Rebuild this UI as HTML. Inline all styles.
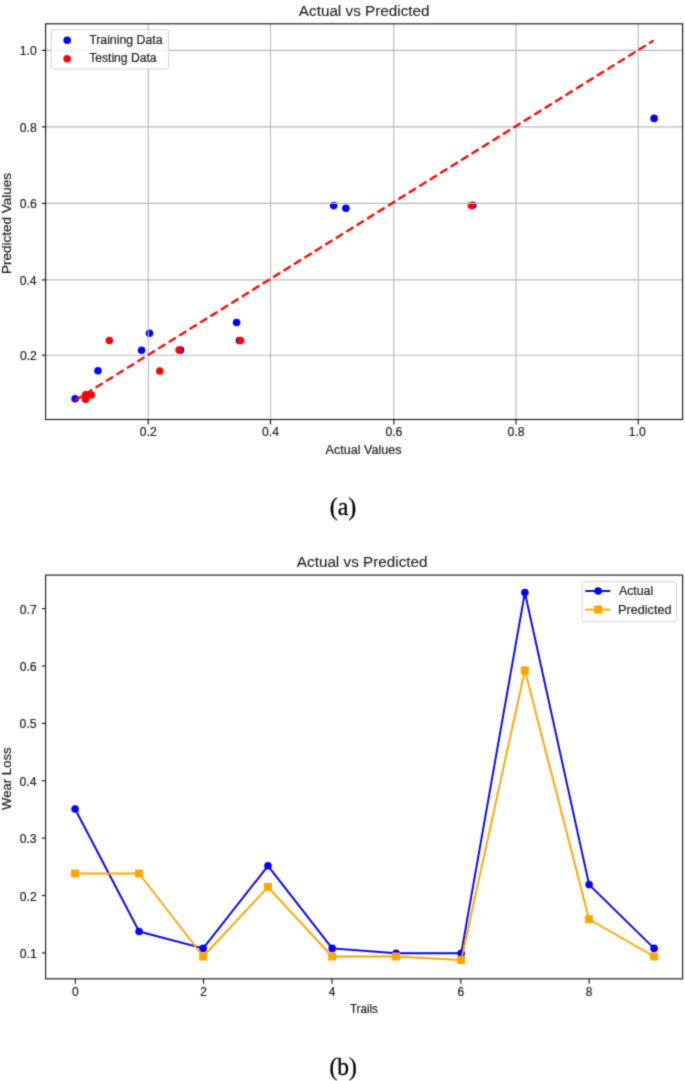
<!DOCTYPE html>
<html><head><meta charset="utf-8"><title>Actual vs Predicted</title>
<style>
html,body{margin:0;padding:0;background:#ffffff;}
body{width:685px;height:1081px;overflow:hidden;font-family:"Liberation Sans",sans-serif;}
svg{display:block;}
</style></head><body>
<svg width="685" height="1081" viewBox="0 0 685 1081">
<defs><filter id="soft" filterUnits="userSpaceOnUse" x="-10" y="-10" width="705" height="1101" color-interpolation-filters="sRGB"><feConvolveMatrix order="3" kernelMatrix="0.0277 0.1110 0.0277 0.1110 0.4452 0.1110 0.0277 0.1110 0.0277" edgeMode="duplicate" preserveAlpha="true"/></filter></defs>
<g filter="url(#soft)">
<rect x="-10" y="-10" width="705" height="1101" fill="#ffffff"/>
<circle cx="75.1" cy="398.8" r="3.8" fill="#0000ff"/>
<circle cx="85.5" cy="399.1" r="3.8" fill="#0000ff"/>
<circle cx="98.0" cy="370.8" r="3.8" fill="#0000ff"/>
<circle cx="141.6" cy="350.3" r="3.8" fill="#0000ff"/>
<circle cx="149.5" cy="333.2" r="3.8" fill="#0000ff"/>
<circle cx="180.6" cy="350.1" r="3.8" fill="#0000ff"/>
<circle cx="236.6" cy="322.5" r="3.8" fill="#0000ff"/>
<circle cx="239.4" cy="340.5" r="3.8" fill="#0000ff"/>
<circle cx="333.7" cy="205.6" r="3.8" fill="#0000ff"/>
<circle cx="345.9" cy="208.2" r="3.8" fill="#0000ff"/>
<circle cx="472.7" cy="205.3" r="3.8" fill="#0000ff"/>
<circle cx="654.1" cy="118.4" r="3.8" fill="#0000ff"/>
<circle cx="85.7" cy="398.9" r="3.8" fill="#ff0000"/>
<circle cx="85.7" cy="394.9" r="3.8" fill="#ff0000"/>
<circle cx="91.3" cy="395.0" r="3.8" fill="#ff0000"/>
<circle cx="109.4" cy="340.5" r="3.8" fill="#ff0000"/>
<circle cx="159.8" cy="371.0" r="3.8" fill="#ff0000"/>
<circle cx="179.2" cy="350.1" r="3.8" fill="#ff0000"/>
<circle cx="240.6" cy="340.5" r="3.8" fill="#ff0000"/>
<circle cx="471.5" cy="205.6" r="3.8" fill="#ff0000"/>
<line x1="148.3" y1="23.8" x2="148.3" y2="419.5" stroke="#b8b8b8" stroke-width="1.1"/>
<line x1="270.5" y1="23.8" x2="270.5" y2="419.5" stroke="#b8b8b8" stroke-width="1.1"/>
<line x1="393.9" y1="23.8" x2="393.9" y2="419.5" stroke="#b8b8b8" stroke-width="1.1"/>
<line x1="516.0" y1="23.8" x2="516.0" y2="419.5" stroke="#b8b8b8" stroke-width="1.1"/>
<line x1="638.2" y1="23.8" x2="638.2" y2="419.5" stroke="#b8b8b8" stroke-width="1.1"/>
<line x1="45.6" y1="50.4" x2="682.6" y2="50.4" stroke="#b8b8b8" stroke-width="1.1"/>
<line x1="45.6" y1="126.9" x2="682.6" y2="126.9" stroke="#b8b8b8" stroke-width="1.1"/>
<line x1="45.6" y1="203.4" x2="682.6" y2="203.4" stroke="#b8b8b8" stroke-width="1.1"/>
<line x1="45.6" y1="279.9" x2="682.6" y2="279.9" stroke="#b8b8b8" stroke-width="1.1"/>
<line x1="45.6" y1="355.2" x2="682.6" y2="355.2" stroke="#b8b8b8" stroke-width="1.1"/>
<line x1="74.7" y1="400.6" x2="653.5" y2="40.6" stroke="#ff0000" stroke-width="2.3" stroke-dasharray="8.4 3.9"/>
<rect x="51.3" y="29.6" width="117.3" height="39.4" rx="2.2" fill="#ffffff" fill-opacity="0.8" stroke="#d4d4d4" stroke-width="1"/>
<circle cx="67.2" cy="40.2" r="3.8" fill="#0000ff"/>
<circle cx="67.2" cy="58.8" r="3.8" fill="#ff0000"/>
<text transform="matrix(0.8989 0 0 1 89.13 43.70)" font-family="Liberation Sans" font-size="13.7" fill="#222222" stroke="#222222" stroke-width="0.2">Training Data</text>
<text transform="matrix(0.8860 0 0 1 89.13 61.70)" font-family="Liberation Sans" font-size="13.7" fill="#222222" stroke="#222222" stroke-width="0.2">Testing Data</text>
<rect x="45.6" y="23.8" width="637.0" height="395.7" fill="none" stroke="#1c1c1c" stroke-width="1.15"/>
<line x1="148.3" y1="419.5" x2="148.3" y2="424.4" stroke="#1c1c1c" stroke-width="1.15"/>
<text transform="matrix(0.9481 0 0 1 139.87 436.30)" font-family="Liberation Sans" font-size="12.9" fill="#222222" stroke="#222222" stroke-width="0.2">0.2</text>
<line x1="270.5" y1="419.5" x2="270.5" y2="424.4" stroke="#1c1c1c" stroke-width="1.15"/>
<text transform="matrix(0.9483 0 0 1 261.94 436.30)" font-family="Liberation Sans" font-size="12.9" fill="#222222" stroke="#222222" stroke-width="0.2">0.4</text>
<line x1="393.9" y1="419.5" x2="393.9" y2="424.4" stroke="#1c1c1c" stroke-width="1.15"/>
<text transform="matrix(0.9481 0 0 1 385.43 436.30)" font-family="Liberation Sans" font-size="12.9" fill="#222222" stroke="#222222" stroke-width="0.2">0.6</text>
<line x1="516.0" y1="419.5" x2="516.0" y2="424.4" stroke="#1c1c1c" stroke-width="1.15"/>
<text transform="matrix(0.9481 0 0 1 507.52 436.30)" font-family="Liberation Sans" font-size="12.9" fill="#222222" stroke="#222222" stroke-width="0.2">0.8</text>
<line x1="638.2" y1="419.5" x2="638.2" y2="424.4" stroke="#1c1c1c" stroke-width="1.15"/>
<text transform="matrix(0.9478 0 0 1 628.78 436.30)" font-family="Liberation Sans" font-size="12.9" fill="#222222" stroke="#222222" stroke-width="0.2">1.0</text>
<line x1="41.800000000000004" y1="50.4" x2="45.6" y2="50.4" stroke="#1c1c1c" stroke-width="1.15"/>
<text transform="matrix(0.9478 0 0 1 19.78 55.00)" font-family="Liberation Sans" font-size="12.9" fill="#222222" stroke="#222222" stroke-width="0.2">1.0</text>
<line x1="41.800000000000004" y1="126.9" x2="45.6" y2="126.9" stroke="#1c1c1c" stroke-width="1.15"/>
<text transform="matrix(0.9481 0 0 1 19.82 131.50)" font-family="Liberation Sans" font-size="12.9" fill="#222222" stroke="#222222" stroke-width="0.2">0.8</text>
<line x1="41.800000000000004" y1="203.4" x2="45.6" y2="203.4" stroke="#1c1c1c" stroke-width="1.15"/>
<text transform="matrix(0.9481 0 0 1 19.84 208.00)" font-family="Liberation Sans" font-size="12.9" fill="#222222" stroke="#222222" stroke-width="0.2">0.6</text>
<line x1="41.800000000000004" y1="279.9" x2="45.6" y2="279.9" stroke="#1c1c1c" stroke-width="1.15"/>
<text transform="matrix(0.9483 0 0 1 19.65 284.50)" font-family="Liberation Sans" font-size="12.9" fill="#222222" stroke="#222222" stroke-width="0.2">0.4</text>
<line x1="41.800000000000004" y1="355.2" x2="45.6" y2="355.2" stroke="#1c1c1c" stroke-width="1.15"/>
<text transform="matrix(0.9481 0 0 1 19.91 359.80)" font-family="Liberation Sans" font-size="12.9" fill="#222222" stroke="#222222" stroke-width="0.2">0.2</text>
<text transform="matrix(1.0326 0 0 1 298.82 15.50)" font-family="Liberation Sans" font-size="14.8" fill="#222222" stroke="#222222" stroke-width="0.1">Actual vs Predicted</text>
<text transform="matrix(0.9763 0 0 1 325.57 453.60)" font-family="Liberation Sans" font-size="12.9" fill="#222222" stroke="#222222" stroke-width="0.2">Actual Values</text>
<text transform="matrix(0 -1.0479 1 0 10.60 274.01)" font-family="Liberation Sans" font-size="12.9" fill="#222222" stroke="#222222" stroke-width="0.2">Predicted Values</text>
<text transform="matrix(0.9785 0 0 1 329.70 514.90)" font-family="Liberation Serif" font-size="24.5" fill="#000000" stroke="#000000" stroke-width="0.3">(a)</text>
<polyline points="75.10,808.99 139.10,931.50 203.20,948.42 268.00,865.80 332.20,948.42 396.10,953.30 461.20,953.30 524.90,592.50 589.10,884.62 654.10,948.42" fill="none" stroke="#0000ff" stroke-width="1.9" stroke-linejoin="round"/>
<circle cx="75.10" cy="808.99" r="3.8" fill="#0000ff"/>
<circle cx="139.10" cy="931.50" r="3.8" fill="#0000ff"/>
<circle cx="203.20" cy="948.42" r="3.8" fill="#0000ff"/>
<circle cx="268.00" cy="865.80" r="3.8" fill="#0000ff"/>
<circle cx="332.20" cy="948.42" r="3.8" fill="#0000ff"/>
<circle cx="396.10" cy="953.30" r="3.8" fill="#0000ff"/>
<circle cx="461.20" cy="953.30" r="3.8" fill="#0000ff"/>
<circle cx="524.90" cy="592.50" r="3.8" fill="#0000ff"/>
<circle cx="589.10" cy="884.62" r="3.8" fill="#0000ff"/>
<circle cx="654.10" cy="948.42" r="3.8" fill="#0000ff"/>
<polyline points="75.10,873.49 139.10,873.49 203.20,956.51 268.00,887.03 332.20,956.51 396.10,956.51 461.20,960.02 524.90,670.30 589.10,919.22 654.10,956.51" fill="none" stroke="#ffa500" stroke-width="1.9" stroke-linejoin="round"/>
<rect x="71.10" y="869.49" width="8.0" height="8.0" fill="#ffa500"/>
<rect x="135.10" y="869.49" width="8.0" height="8.0" fill="#ffa500"/>
<rect x="199.20" y="952.51" width="8.0" height="8.0" fill="#ffa500"/>
<rect x="264.00" y="883.03" width="8.0" height="8.0" fill="#ffa500"/>
<rect x="328.20" y="952.51" width="8.0" height="8.0" fill="#ffa500"/>
<rect x="392.10" y="952.51" width="8.0" height="8.0" fill="#ffa500"/>
<rect x="457.20" y="956.02" width="8.0" height="8.0" fill="#ffa500"/>
<rect x="520.90" y="666.30" width="8.0" height="8.0" fill="#ffa500"/>
<rect x="585.10" y="915.22" width="8.0" height="8.0" fill="#ffa500"/>
<rect x="650.10" y="952.51" width="8.0" height="8.0" fill="#ffa500"/>
<rect x="582.1" y="581.7" width="94.5" height="40" rx="2.2" fill="#ffffff" fill-opacity="0.8" stroke="#d4d4d4" stroke-width="1"/>
<line x1="585.3" y1="591.0" x2="610.3" y2="591.0" stroke="#0000ff" stroke-width="1.9"/>
<circle cx="598.2" cy="591.0" r="3.8" fill="#0000ff"/>
<line x1="585.3" y1="609.6" x2="610.3" y2="609.6" stroke="#ffa500" stroke-width="1.9"/>
<rect x="594.20" y="605.60" width="8.0" height="8.0" fill="#ffa500"/>
<text transform="matrix(0.8942 0 0 1 619.08 595.40)" font-family="Liberation Sans" font-size="13.7" fill="#222222" stroke="#222222" stroke-width="0.2">Actual</text>
<text transform="matrix(0.9236 0 0 1 618.06 613.50)" font-family="Liberation Sans" font-size="13.7" fill="#222222" stroke="#222222" stroke-width="0.2">Predicted</text>
<rect x="45.6" y="575.1" width="637.0" height="403.7" fill="none" stroke="#1c1c1c" stroke-width="1.15"/>
<line x1="75.30" y1="978.8" x2="75.30" y2="983.6999999999999" stroke="#1c1c1c" stroke-width="1.15"/>
<text transform="matrix(0.9276 0 0 1 71.97 996.40)" font-family="Liberation Sans" font-size="12.9" fill="#222222" stroke="#222222" stroke-width="0.2">0</text>
<line x1="203.50" y1="978.8" x2="203.50" y2="983.6999999999999" stroke="#1c1c1c" stroke-width="1.15"/>
<text transform="matrix(0.9260 0 0 1 200.18 996.40)" font-family="Liberation Sans" font-size="12.9" fill="#222222" stroke="#222222" stroke-width="0.2">2</text>
<line x1="332.10" y1="978.8" x2="332.10" y2="983.6999999999999" stroke="#1c1c1c" stroke-width="1.15"/>
<text transform="matrix(0.9292 0 0 1 328.80 996.40)" font-family="Liberation Sans" font-size="12.9" fill="#222222" stroke="#222222" stroke-width="0.2">4</text>
<line x1="460.80" y1="978.8" x2="460.80" y2="983.6999999999999" stroke="#1c1c1c" stroke-width="1.15"/>
<text transform="matrix(0.9264 0 0 1 457.44 996.40)" font-family="Liberation Sans" font-size="12.9" fill="#222222" stroke="#222222" stroke-width="0.2">6</text>
<line x1="589.10" y1="978.8" x2="589.10" y2="983.6999999999999" stroke="#1c1c1c" stroke-width="1.15"/>
<text transform="matrix(0.9270 0 0 1 585.78 996.40)" font-family="Liberation Sans" font-size="12.9" fill="#222222" stroke="#222222" stroke-width="0.2">8</text>
<line x1="41.800000000000004" y1="952.90" x2="45.6" y2="952.90" stroke="#1c1c1c" stroke-width="1.15"/>
<text transform="matrix(0.9481 0 0 1 19.70 957.90)" font-family="Liberation Sans" font-size="12.9" fill="#222222" stroke="#222222" stroke-width="0.2">0.1</text>
<line x1="41.800000000000004" y1="895.52" x2="45.6" y2="895.52" stroke="#1c1c1c" stroke-width="1.15"/>
<text transform="matrix(0.9481 0 0 1 19.71 900.52)" font-family="Liberation Sans" font-size="12.9" fill="#222222" stroke="#222222" stroke-width="0.2">0.2</text>
<line x1="41.800000000000004" y1="838.14" x2="45.6" y2="838.14" stroke="#1c1c1c" stroke-width="1.15"/>
<text transform="matrix(0.9481 0 0 1 19.64 843.14)" font-family="Liberation Sans" font-size="12.9" fill="#222222" stroke="#222222" stroke-width="0.2">0.3</text>
<line x1="41.800000000000004" y1="780.76" x2="45.6" y2="780.76" stroke="#1c1c1c" stroke-width="1.15"/>
<text transform="matrix(0.9483 0 0 1 19.45 785.76)" font-family="Liberation Sans" font-size="12.9" fill="#222222" stroke="#222222" stroke-width="0.2">0.4</text>
<line x1="41.800000000000004" y1="723.38" x2="45.6" y2="723.38" stroke="#1c1c1c" stroke-width="1.15"/>
<text transform="matrix(0.9482 0 0 1 19.61 728.38)" font-family="Liberation Sans" font-size="12.9" fill="#222222" stroke="#222222" stroke-width="0.2">0.5</text>
<line x1="41.800000000000004" y1="666.00" x2="45.6" y2="666.00" stroke="#1c1c1c" stroke-width="1.15"/>
<text transform="matrix(0.9481 0 0 1 19.64 671.00)" font-family="Liberation Sans" font-size="12.9" fill="#222222" stroke="#222222" stroke-width="0.2">0.6</text>
<line x1="41.800000000000004" y1="608.62" x2="45.6" y2="608.62" stroke="#1c1c1c" stroke-width="1.15"/>
<text transform="matrix(0.9481 0 0 1 19.71 613.62)" font-family="Liberation Sans" font-size="12.9" fill="#222222" stroke="#222222" stroke-width="0.2">0.7</text>
<text transform="matrix(1.0326 0 0 1 296.82 566.60)" font-family="Liberation Sans" font-size="14.8" fill="#222222" stroke="#222222" stroke-width="0.1">Actual vs Predicted</text>
<text transform="matrix(0.9009 0 0 1 349.94 1013.40)" font-family="Liberation Sans" font-size="12.9" fill="#222222" stroke="#222222" stroke-width="0.2">Trails</text>
<text transform="matrix(0 -1.0199 1 0 10.90 809.97)" font-family="Liberation Sans" font-size="12.9" fill="#222222" stroke="#222222" stroke-width="0.2">Wear Loss</text>
<text transform="matrix(0.9617 0 0 1 329.51 1074.80)" font-family="Liberation Serif" font-size="24.5" fill="#000000" stroke="#000000" stroke-width="0.3">(b)</text>
</g>
</svg>
</body></html>
